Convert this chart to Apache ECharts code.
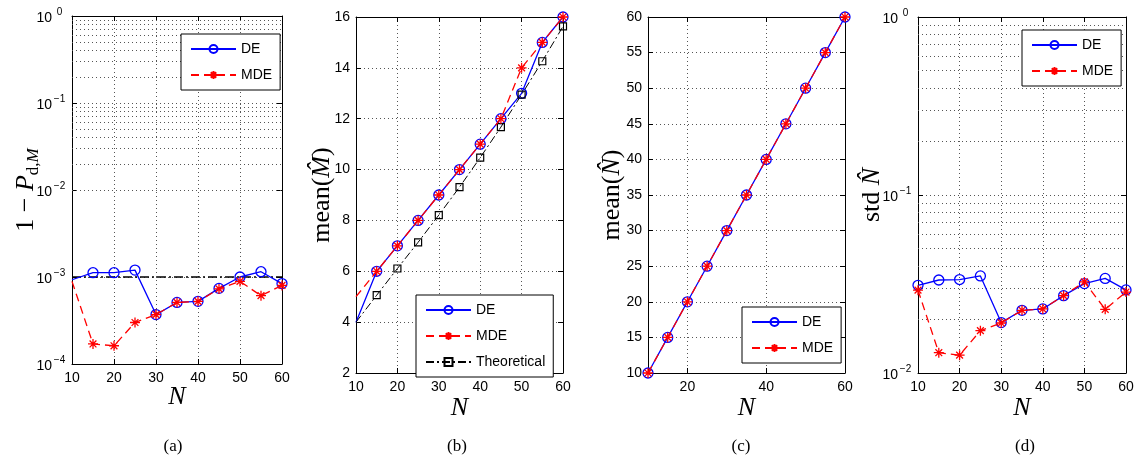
<!DOCTYPE html>
<html>
<head>
<meta charset="utf-8">
<script src="https://cdn.jsdelivr.net/npm/echarts@6/dist/echarts.min.js"></script>
<style>html,body{margin:0;padding:0;background:#fff}#c{width:1138px;height:461px}</style>
</head>
<body>
<div id="c"></div>
<script>
// ---------------- data ----------------
const N = [10, 15, 20, 25, 30, 35, 40, 45, 50, 55, 60];
// (a) 1 - P_d,M  (log)
const aDE    = [9.3e-4, 1.12e-3, 1.12e-3, 1.2e-3, 3.7e-4, 5.1e-4, 5.25e-4, 7.4e-4, 1.0e-3, 1.15e-3, 8.4e-4];
const aMDE   = [8.9e-4, 1.7e-4, 1.62e-4, 3.0e-4, 3.7e-4, 5.1e-4, 5.25e-4, 7.3e-4, 8.9e-4, 6.1e-4, 8.0e-4];
const aBound = [1e-3, 1e-3, 1e-3, 1e-3, 1e-3, 1e-3, 1e-3, 1e-3, 1e-3, 1e-3, 1e-3];
// (b) mean(M^)
const bDE     = [4, 6, 7, 8, 9, 10, 11, 12, 13, 15, 16];
const bMDE    = [5, 6, 7, 8, 9, 10, 11, 12, 14, 15, 16];
const bTheory = [4, 5.06, 6.11, 7.14, 8.21, 9.31, 10.47, 11.67, 12.95, 14.26, 15.63];
// (c) mean(N^)
const cDE  = [10, 15, 20, 25, 30, 35, 40, 45, 50, 55, 60];
const cMDE = [10, 15, 20, 25, 30, 35, 40, 45, 50, 55, 60];
// (d) std N^ (log)
const dDE  = [0.0311, 0.0333, 0.0335, 0.0351, 0.0192, 0.0225, 0.0229, 0.0272, 0.0318, 0.0340, 0.0293];
const dMDE = [0.0292, 0.0130, 0.0126, 0.0173, 0.0191, 0.0225, 0.0229, 0.0272, 0.0325, 0.0228, 0.0285];
// tick labels
const cXTicks = [20, 40, 60];
const legendA = ['DE', 'MDE'];
const legendB = ['DE', 'MDE', 'Theoretical'];
const captions = ['(a)', '(b)', '(c)', '(d)'];

// ---------------- style ----------------
const SANS = 'Liberation Sans, Arial, Helvetica, sans-serif';
const SERIF = 'Liberation Serif, Times New Roman, serif';
const BLUE = '#0000ff', RED = '#ff0000', BLACK = '#000000';
const STAR = 'path://M5,0L5,10M0,5L10,5M1.6,1.6L8.4,8.4M8.4,1.6L1.6,8.4';
const GRIDLINE = {color: '#555', type: [1, 3], width: 1};

const panels = [
  {box: [72, 16, 210, 348], log: true, yMin: 1e-4, yMax: 1, decades: [-4, 0], yGap: 30, xGap: 19,
   yName: '{n|1 − }{i|P}{sb|d,}{sbi|M}', hideFirst: true},
  {box: [356, 17, 207, 356], log: false, yMin: 2, yMax: 16, yInt: 2, yGap: 18, xGap: 21,
   yName: '{n|mean(}{i|M\u0302}{n|)}', hideFirst: true},
  {box: [648, 17, 197, 356], log: false, yMin: 10, yMax: 60, yInt: 5, yGap: 20, xGap: 21,
   yName: '{n|mean(}{i|N\u0302}{n|)}', hideFirst: false, xCustom: cXTicks},
  {box: [918, 17, 208, 356], log: true, yMin: 1e-2, yMax: 1, decades: [-2, 0], yGap: 30, xGap: 21,
   yName: '{n|std }{i|N\u0302}', hideFirst: false}
];
const capX = [173, 457, 741, 1025];

function minorValues(dec) {
  const out = [];
  for (let e = dec[0]; e < dec[1]; e++) for (let m = 2; m <= 9; m++) out.push(m * Math.pow(10, e));
  return out;
}
function pts(ys, hideFirst) {
  return N.map((x, i) => (hideFirst && i === 0) ? {value: [x, ys[i]], symbol: 'none'} : [x, ys[i]]);
}
function logFmt(v) {
  const e = Math.round(Math.log10(v));
  return '{b|10}{s|' + (e < 0 ? '\u2212' + (-e) : String(e)) + '}';
}
const logRich = {
  b: {fontSize: 14, fontFamily: SANS, color: '#000', lineHeight: 18, verticalAlign: 'bottom'},
  s: {fontSize: 10, fontFamily: SANS, color: '#000', lineHeight: 18, verticalAlign: 'top', width: 15, align: 'left'}
};
const nameRich = {
  n: {fontSize: 26, fontFamily: SERIF, color: '#000', lineHeight: 32, verticalAlign: 'middle'},
  i: {fontSize: 26, fontFamily: SERIF, fontStyle: 'italic', color: '#000', lineHeight: 32, verticalAlign: 'middle'},
  sb: {fontSize: 17, fontFamily: SERIF, color: '#000', lineHeight: 32, verticalAlign: 'bottom'},
  sbi: {fontSize: 17, fontFamily: SERIF, fontStyle: 'italic', color: '#000', lineHeight: 32, verticalAlign: 'bottom'}
};

const grid = [], xAxis = [], yAxis = [];
panels.forEach((p, i) => {
  grid.push({left: p.box[0], top: p.box[1], width: p.box[2], height: p.box[3], containLabel: false});
  const xBase = {type: 'value', gridIndex: i, min: 10, max: 60, interval: 10};
  xAxis.push(Object.assign({}, xBase, {
    position: 'bottom',
    axisLine: {onZero: false, lineStyle: {color: BLACK, width: 1}},
    axisTick: Object.assign({inside: true, length: 5, lineStyle: {color: BLACK}}, p.xCustom ? {customValues: p.xCustom} : {}),
    axisLabel: Object.assign({margin: 7, color: BLACK, fontSize: 14, fontFamily: SANS}, p.xCustom ? {customValues: p.xCustom} : {}),
    splitLine: {show: true, lineStyle: GRIDLINE},
    name: 'N', nameLocation: 'middle', nameGap: p.xGap, nameMoveOverlap: false,
    nameTextStyle: {fontFamily: SERIF, fontStyle: 'italic', fontSize: 26, lineHeight: 28, color: BLACK}
  }));
  xAxis.push(Object.assign({}, xBase, {
    position: 'top',
    axisLine: {onZero: false, lineStyle: {color: BLACK, width: 1}},
    axisTick: Object.assign({inside: true, length: 5, lineStyle: {color: BLACK}}, p.xCustom ? {customValues: p.xCustom} : {}),
    axisLabel: {show: false}, splitLine: {show: false}
  }));
  const yBase = p.log
    ? {type: 'log', logBase: 10, gridIndex: i, min: p.yMin, max: p.yMax}
    : {type: 'value', gridIndex: i, min: p.yMin, max: p.yMax, interval: p.yInt};
  yAxis.push(Object.assign({}, yBase, {
    position: 'left',
    axisLine: {onZero: false, lineStyle: {color: BLACK, width: 1}},
    axisTick: {inside: true, length: 5, lineStyle: {color: BLACK}},
    axisLabel: p.log ? {margin: 5, formatter: logFmt, rich: logRich}
                     : {margin: 6, color: BLACK, fontSize: 14, fontFamily: SANS},
    splitLine: {show: true, lineStyle: GRIDLINE},
    name: p.yName, nameLocation: 'middle', nameRotate: 90, nameGap: p.yGap, nameMoveOverlap: false,
    nameTextStyle: {rich: nameRich}
  }));
  yAxis.push(Object.assign({}, yBase, {
    position: 'right',
    axisLine: {onZero: false, lineStyle: {color: BLACK, width: 1}},
    axisTick: {inside: true, length: 5, lineStyle: {color: BLACK}},
    axisLabel: {show: false}, splitLine: {show: false}
  }));
});

function deSeries(i, ys, hideFirst, extra) {
  return Object.assign({
    name: 'DE', type: 'line', xAxisIndex: 2 * i, yAxisIndex: 2 * i, data: pts(ys, hideFirst),
    color: BLUE, symbol: 'circle', symbolSize: 10, showAllSymbol: true,
    lineStyle: {color: BLUE, width: 1.3, type: 'solid'},
    itemStyle: {color: 'rgba(255,255,255,0)', borderColor: BLUE, borderWidth: 1.3},
    emphasis: {disabled: true}, animation: false, z: 2
  }, extra || {});
}
function mdeSeries(i, ys, hideFirst) {
  return {
    name: 'MDE', type: 'line', xAxisIndex: 2 * i, yAxisIndex: 2 * i, data: pts(ys, hideFirst),
    color: RED, symbol: STAR, symbolSize: 10, showAllSymbol: true,
    lineStyle: {color: RED, width: 1.3, type: [8, 5]},
    itemStyle: {color: RED, borderColor: RED, borderWidth: 1.3},
    emphasis: {disabled: true}, animation: false, z: 3
  };
}
function minorGrid(dec) {
  return {
    silent: true, symbol: ['none', 'none'], label: {show: false}, z: 1, animation: false,
    lineStyle: GRIDLINE, emphasis: {disabled: true},
    data: minorValues(dec).map(v => ({yAxis: v}))
  };
}

const series = [
  // (a)
  {name: 'bound', type: 'line', xAxisIndex: 0, yAxisIndex: 0, data: pts(aBound, true), symbol: 'none',
   lineStyle: {color: BLACK, width: 1.3, type: [9, 3, 2, 3]}, color: BLACK, emphasis: {disabled: true},
   animation: false, z: 2, markLine: minorGrid(panels[0].decades)},
  deSeries(0, aDE, true),
  mdeSeries(0, aMDE, true),
  // (b)
  deSeries(1, bDE, true),
  mdeSeries(1, bMDE, true),
  {name: 'Theoretical', type: 'line', xAxisIndex: 2, yAxisIndex: 2, data: pts(bTheory, true),
   color: BLACK, symbol: 'rect', symbolSize: 7, showAllSymbol: true,
   lineStyle: {color: BLACK, width: 1, type: [8, 3, 2, 3]},
   itemStyle: {color: 'rgba(255,255,255,0)', borderColor: BLACK, borderWidth: 1.2},
   emphasis: {disabled: true}, animation: false, z: 2},
  // (c)
  deSeries(2, cDE, false),
  mdeSeries(2, cMDE, false),
  // (d)
  deSeries(3, dDE, false, {markLine: minorGrid(panels[3].decades)}),
  mdeSeries(3, dMDE, false)
];

const legendBase = {
  orient: 'vertical', itemWidth: 45, itemHeight: 10, itemGap: 12, padding: [8, 8, 8, 9],
  borderColor: BLACK, borderWidth: 1, backgroundColor: '#fff', borderRadius: 0,
  textStyle: {fontSize: 14, fontFamily: SANS, color: BLACK}, selectedMode: false, z: 10
};
const legend = [
  Object.assign({}, legendBase, {data: legendA, left: 181, top: 34}),
  Object.assign({}, legendBase, {data: legendB, left: 416, top: 295}),
  Object.assign({}, legendBase, {data: legendA, left: 742, top: 307}),
  Object.assign({}, legendBase, {data: legendA, left: 1022, top: 30})
];

const graphic = captions.map((t, k) => ({
  type: 'text', x: capX[k], y: 447, silent: true,
  style: {text: t, fontSize: 17, fontFamily: SERIF, fill: BLACK, align: 'center', verticalAlign: 'middle'}
}));

const chart = echarts.init(document.getElementById('c'));
chart.setOption({
  backgroundColor: '#fff', animation: false,
  grid, xAxis, yAxis, series, legend, graphic
});
</script>
</body>
</html>
